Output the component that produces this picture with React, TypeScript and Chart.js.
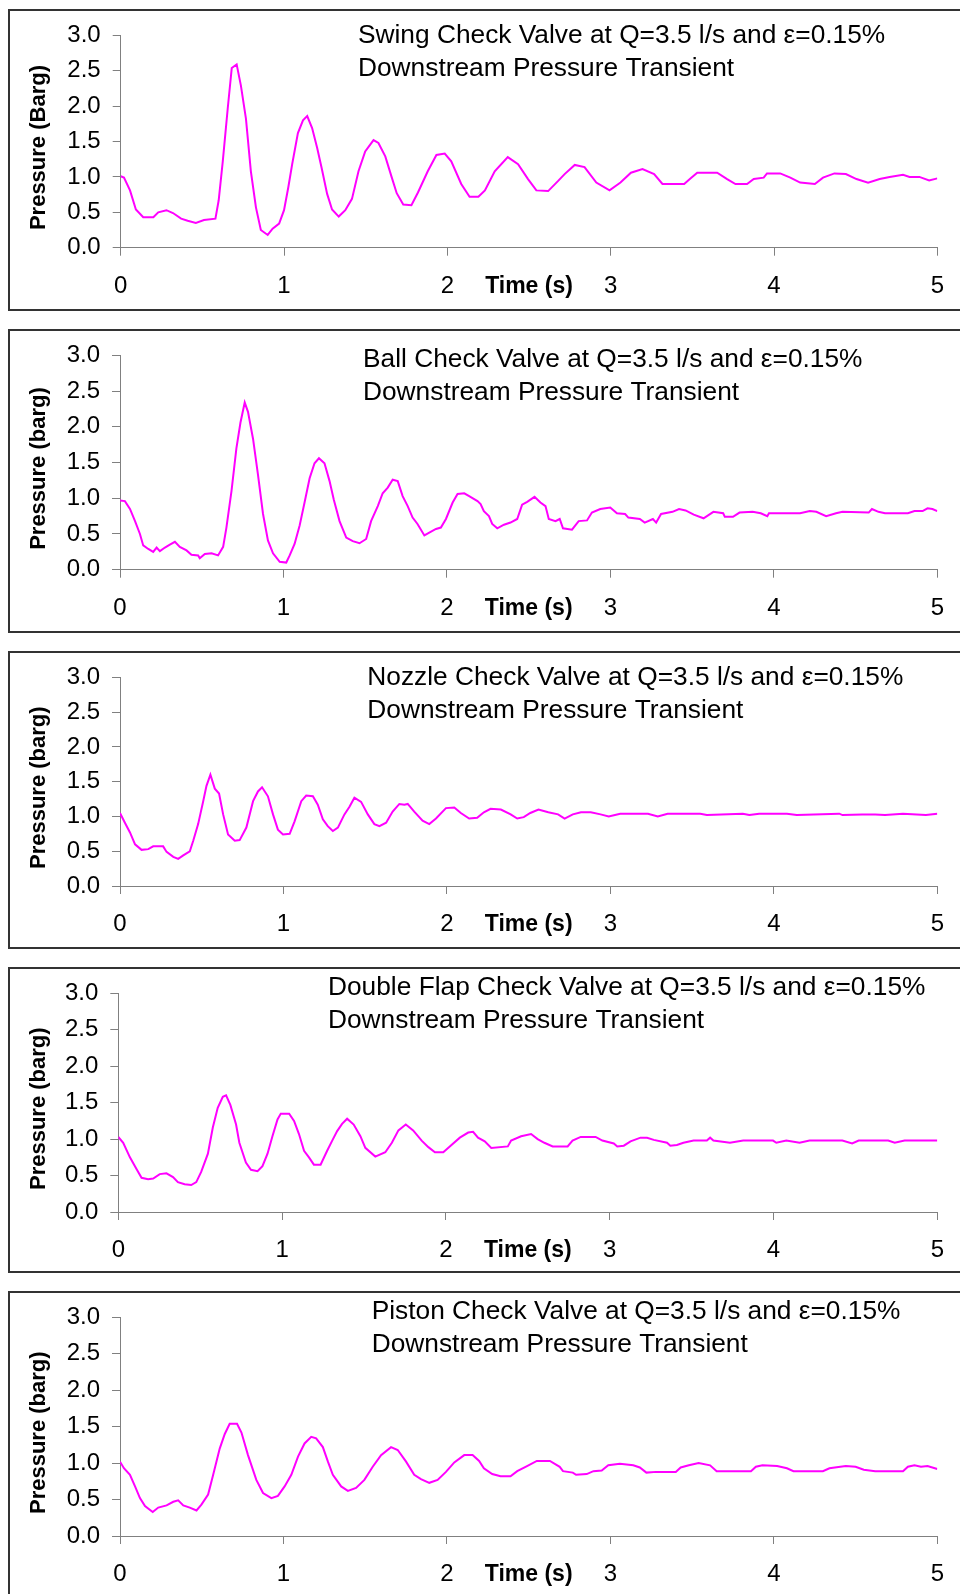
import React, { useEffect, useRef } from "react";
import { Chart, registerables } from "chart.js";
Chart.register(...registerables);

const FONT = "'Liberation Sans', Arial, Helvetica, sans-serif";

// ---- axes ----
const X_TICKS = [0, 1, 2, 3, 4, 5];
const X_TICK_LABELS = ["0", "1", "2", "3", "4", "5"];
const Y_TICKS = [0, 0.5, 1, 1.5, 2, 2.5, 3];
const Y_TICK_LABELS = ["0.0", "0.5", "1.0", "1.5", "2.0", "2.5", "3.0"];
const X_TITLE = "Time (s)";
const SUBTITLE = "Downstream Pressure Transient";

// ---- Swing check valve ----
const SWING_T = [
  0, 0.02, 0.057, 0.093, 0.138, 0.2, 0.23, 0.28, 0.32, 0.37,
  0.41, 0.46, 0.51, 0.58, 0.6, 0.625, 0.655, 0.68, 0.71, 0.736,
  0.767, 0.797, 0.828, 0.858, 0.9, 0.93, 0.97, 1.0, 1.026, 1.05,
  1.085, 1.116, 1.142, 1.172, 1.203, 1.23, 1.264, 1.294, 1.335, 1.375,
  1.416, 1.456, 1.497, 1.548, 1.578, 1.62, 1.66, 1.69, 1.73, 1.78,
  1.82, 1.88, 1.933, 1.984, 2.024, 2.085, 2.136, 2.19, 2.23, 2.29,
  2.37, 2.433, 2.494, 2.545, 2.617, 2.677, 2.718, 2.78, 2.84, 2.912,
  2.993, 3.06, 3.124, 3.195, 3.266, 3.317, 3.45, 3.49, 3.53, 3.652,
  3.713, 3.764, 3.835, 3.876, 3.937, 3.957, 4.038, 4.1, 4.16, 4.25,
  4.3, 4.37, 4.44, 4.505, 4.576, 4.647, 4.708, 4.79, 4.83, 4.89,
  4.95, 5.0,
];
const SWING_P = [
  1.01, 0.99, 0.81, 0.54, 0.43, 0.43, 0.5, 0.53, 0.49, 0.41,
  0.38, 0.35, 0.39, 0.41, 0.67, 1.22, 1.96, 2.54, 2.59, 2.29,
  1.82, 1.08, 0.57, 0.25, 0.18, 0.27, 0.34, 0.53, 0.85, 1.18,
  1.62, 1.8, 1.86, 1.69, 1.41, 1.13, 0.76, 0.54, 0.44, 0.53,
  0.69, 1.08, 1.36, 1.52, 1.48, 1.29, 0.99, 0.77, 0.61, 0.6,
  0.78, 1.08, 1.31, 1.33, 1.22, 0.9, 0.72, 0.72, 0.81, 1.08,
  1.28, 1.18, 0.97, 0.81, 0.8, 0.94, 1.04, 1.17, 1.14, 0.92,
  0.81, 0.92, 1.06, 1.11, 1.04, 0.9, 0.9, 0.98, 1.06, 1.06,
  0.97, 0.9, 0.9, 0.97, 0.99, 1.05, 1.05, 0.99, 0.92, 0.9,
  0.99, 1.05, 1.04, 0.97, 0.92, 0.97, 1.0, 1.03, 1.0, 1.0,
  0.95, 0.98,
];

// ---- Ball check valve ----
const BALL_T = [
  0, 0.03, 0.061, 0.092, 0.122, 0.142, 0.173, 0.203, 0.224, 0.244,
  0.275, 0.305, 0.336, 0.366, 0.407, 0.437, 0.478, 0.488, 0.519, 0.56,
  0.6, 0.631, 0.651, 0.682, 0.712, 0.737, 0.763, 0.783, 0.814, 0.844,
  0.875, 0.905, 0.936, 0.977, 1.017, 1.038, 1.068, 1.099, 1.129, 1.16,
  1.19, 1.217, 1.251, 1.282, 1.308, 1.343, 1.384, 1.424, 1.465, 1.506,
  1.536, 1.577, 1.607, 1.638, 1.668, 1.699, 1.729, 1.76, 1.79, 1.82,
  1.862, 1.892, 1.933, 1.963, 1.994, 2.035, 2.065, 2.106, 2.136, 2.187,
  2.206, 2.226, 2.257, 2.277, 2.308, 2.349, 2.389, 2.43, 2.46, 2.491,
  2.536, 2.572, 2.603, 2.623, 2.664, 2.69, 2.71, 2.765, 2.806, 2.857,
  2.887, 2.938, 2.999, 3.04, 3.09, 3.11, 3.18, 3.21, 3.26, 3.28,
  3.31, 3.38, 3.42, 3.46, 3.51, 3.57, 3.63, 3.69, 3.7, 3.75,
  3.79, 3.87, 3.92, 3.96, 3.97, 4.16, 4.22, 4.26, 4.32, 4.38,
  4.42, 4.58, 4.6, 4.64, 4.68, 4.82, 4.86, 4.91, 4.94, 4.97,
  5.0,
];
const BALL_P = [
  0.97, 0.96, 0.85, 0.68, 0.5, 0.34, 0.29, 0.25, 0.31, 0.26,
  0.31, 0.35, 0.39, 0.32, 0.27, 0.21, 0.2, 0.16, 0.22, 0.23,
  0.2, 0.32, 0.59, 1.1, 1.7, 2.06, 2.34, 2.21, 1.83, 1.33,
  0.78, 0.41, 0.23, 0.11, 0.1, 0.2, 0.36, 0.62, 0.94, 1.28,
  1.49, 1.56, 1.49, 1.24, 0.98, 0.68, 0.45, 0.4, 0.37, 0.43,
  0.68, 0.89, 1.07, 1.15, 1.26, 1.24, 1.03, 0.89, 0.73, 0.64,
  0.48, 0.52, 0.57, 0.59, 0.71, 0.94, 1.06, 1.07, 1.03, 0.96,
  0.92, 0.82, 0.75, 0.64, 0.58, 0.63, 0.66, 0.71, 0.91, 0.95,
  1.02, 0.94, 0.89, 0.71, 0.68, 0.71, 0.58, 0.56, 0.68, 0.69,
  0.8, 0.85, 0.87, 0.79, 0.78, 0.73, 0.71, 0.66, 0.71, 0.66,
  0.78, 0.81, 0.85, 0.83, 0.77, 0.72, 0.81, 0.79, 0.74, 0.74,
  0.8, 0.81, 0.79, 0.75, 0.79, 0.79, 0.82, 0.81, 0.75, 0.79,
  0.81, 0.8, 0.85, 0.81, 0.79, 0.79, 0.82, 0.82, 0.86, 0.85,
  0.82,
];

// ---- Nozzle check valve ----
const NOZZLE_T = [
  0, 0.03, 0.061, 0.092, 0.132, 0.173, 0.203, 0.264, 0.285, 0.326,
  0.356, 0.387, 0.427, 0.448, 0.478, 0.509, 0.529, 0.553, 0.58, 0.606,
  0.631, 0.661, 0.702, 0.732, 0.773, 0.814, 0.844, 0.869, 0.905, 0.936,
  0.966, 0.997, 1.038, 1.068, 1.109, 1.139, 1.18, 1.21, 1.241, 1.271,
  1.302, 1.333, 1.373, 1.404, 1.434, 1.475, 1.516, 1.556, 1.587, 1.628,
  1.668, 1.709, 1.74, 1.76, 1.8, 1.851, 1.892, 1.933, 1.994, 2.045,
  2.085, 2.136, 2.185, 2.226, 2.267, 2.33, 2.39, 2.43, 2.47, 2.51,
  2.56, 2.62, 2.68, 2.72, 2.77, 2.82, 2.88, 2.94, 2.99, 3.06,
  3.23, 3.29, 3.35, 3.55, 3.59, 3.81, 3.85, 3.91, 4.08, 4.14,
  4.4, 4.42, 4.54, 4.62, 4.68, 4.79, 4.93, 5.0,
];
const NOZZLE_P = [
  1.05, 0.91, 0.77, 0.6, 0.52, 0.53, 0.57, 0.57, 0.49, 0.42,
  0.39, 0.44, 0.5, 0.65, 0.89, 1.22, 1.44, 1.6, 1.4, 1.33,
  1.03, 0.74, 0.65, 0.66, 0.84, 1.22, 1.36, 1.42, 1.29, 1.03,
  0.81, 0.74, 0.75, 0.93, 1.22, 1.3, 1.29, 1.17, 0.96, 0.86,
  0.79, 0.84, 1.03, 1.14, 1.27, 1.21, 1.03, 0.89, 0.86, 0.91,
  1.07, 1.18, 1.17, 1.18, 1.07, 0.94, 0.89, 0.97, 1.12, 1.13,
  1.05, 0.97, 0.98, 1.06, 1.11, 1.1, 1.03, 0.97, 0.99, 1.05,
  1.1, 1.06, 1.03, 0.97, 1.03, 1.06, 1.06, 1.03, 1.0, 1.04,
  1.04, 1.0, 1.04, 1.04, 1.02, 1.04, 1.02, 1.04, 1.04, 1.02,
  1.04, 1.02, 1.03, 1.03, 1.02, 1.04, 1.02, 1.04,
];

// ---- Double flap check valve ----
const FLAP_T = [
  0, 0.03, 0.071, 0.111, 0.142, 0.182, 0.213, 0.253, 0.294, 0.334,
  0.364, 0.405, 0.445, 0.476, 0.506, 0.547, 0.577, 0.607, 0.638, 0.658,
  0.684, 0.719, 0.739, 0.779, 0.81, 0.85, 0.88, 0.911, 0.941, 0.972,
  0.992, 1.043, 1.073, 1.103, 1.134, 1.164, 1.194, 1.235, 1.275, 1.306,
  1.336, 1.366, 1.397, 1.437, 1.478, 1.508, 1.569, 1.63, 1.67, 1.71,
  1.755, 1.8, 1.852, 1.893, 1.933, 1.984, 2.034, 2.085, 2.136, 2.166,
  2.196, 2.237, 2.277, 2.378, 2.398, 2.459, 2.52, 2.56, 2.601, 2.652,
  2.743, 2.773, 2.823, 2.914, 2.955, 3.025, 3.046, 3.086, 3.127, 3.188,
  3.228, 3.269, 3.35, 3.37, 3.41, 3.45, 3.512, 3.593, 3.613, 3.633,
  3.734, 3.815, 3.997, 4.017, 4.078, 4.159, 4.22, 4.42, 4.48, 4.52,
  4.7, 4.74, 4.8, 5.0,
];
const FLAP_P = [
  1.03, 0.95, 0.75, 0.59, 0.47, 0.45, 0.46, 0.52, 0.53, 0.48,
  0.41, 0.38, 0.37, 0.41, 0.55, 0.8, 1.16, 1.43, 1.58, 1.6,
  1.47, 1.2, 0.95, 0.68, 0.58, 0.56, 0.63, 0.8, 1.04, 1.27,
  1.35, 1.35, 1.25, 1.07, 0.84, 0.75, 0.65, 0.65, 0.84, 0.98,
  1.11, 1.21, 1.28, 1.2, 1.04, 0.88, 0.76, 0.82, 0.95, 1.12,
  1.2, 1.12, 0.98, 0.89, 0.82, 0.82, 0.92, 1.02, 1.09, 1.1,
  1.02, 0.97, 0.88, 0.9, 0.98, 1.04, 1.07, 1.0, 0.95, 0.9,
  0.9, 0.98, 1.03, 1.03, 0.98, 0.94, 0.9, 0.91, 0.97, 1.02,
  1.02, 0.99, 0.95, 0.91, 0.92, 0.95, 0.98, 0.98, 1.02, 0.98,
  0.95, 0.98, 0.98, 0.95, 0.98, 0.95, 0.98, 0.98, 0.94, 0.98,
  0.98, 0.95, 0.98, 0.98,
];

// ---- Piston check valve ----
const PISTON_T = [
  0, 0.024, 0.061, 0.092, 0.122, 0.153, 0.2, 0.234, 0.285, 0.326,
  0.356, 0.387, 0.427, 0.468, 0.498, 0.539, 0.57, 0.61, 0.641, 0.671,
  0.716, 0.743, 0.783, 0.834, 0.875, 0.926, 0.966, 1.007, 1.048, 1.089,
  1.129, 1.17, 1.2, 1.241, 1.272, 1.302, 1.353, 1.394, 1.444, 1.495,
  1.546, 1.597, 1.658, 1.699, 1.75, 1.8, 1.841, 1.892, 1.943, 1.994,
  2.045, 2.106, 2.157, 2.197, 2.226, 2.277, 2.328, 2.389, 2.43, 2.49,
  2.55, 2.63, 2.69, 2.71, 2.77, 2.79, 2.855, 2.896, 2.947, 2.987,
  3.058, 3.14, 3.18, 3.22, 3.28, 3.4, 3.43, 3.48, 3.54, 3.61,
  3.65, 3.86, 3.89, 3.93, 4.02, 4.08, 4.12, 4.3, 4.34, 4.44,
  4.5, 4.55, 4.62, 4.79, 4.82, 4.86, 4.9, 4.94, 5.0,
];
const PISTON_P = [
  1.02, 0.93, 0.84, 0.68, 0.52, 0.41, 0.33, 0.39, 0.42, 0.47,
  0.49, 0.42, 0.39, 0.35, 0.43, 0.57, 0.84, 1.2, 1.4, 1.54,
  1.54, 1.42, 1.11, 0.77, 0.59, 0.52, 0.55, 0.68, 0.84, 1.09,
  1.27, 1.36, 1.34, 1.22, 1.02, 0.84, 0.68, 0.62, 0.66, 0.77,
  0.95, 1.11, 1.22, 1.18, 1.02, 0.84, 0.78, 0.73, 0.77, 0.88,
  1.01, 1.11, 1.11, 1.03, 0.93, 0.85, 0.82, 0.82, 0.89, 0.96,
  1.03, 1.03, 0.95, 0.89, 0.87, 0.84, 0.85, 0.89, 0.9, 0.97,
  0.99, 0.97, 0.94, 0.87, 0.88, 0.88, 0.94, 0.97, 1.0, 0.97,
  0.89, 0.89, 0.95, 0.97, 0.96, 0.93, 0.89, 0.89, 0.93, 0.96,
  0.95, 0.91, 0.89, 0.89, 0.95, 0.97, 0.95, 0.96, 0.92,
];

// ---- layout of the five panels (page pixels) ----
type PanelCfg = {
  title: string;
  yTitle: string;
  t: number[];
  p: number[];
  boxTop: number;
  boxH: number;
  plotL: number;
  plotR: number;
  plotT: number;
  plotB: number;
  titleX: number;
  titleBase: number;
};

const PANELS: PanelCfg[] = [
  { title: "Swing Check Valve at Q=3.5 l/s and ε=0.15%", yTitle: "Pressure (Barg)", t: SWING_T, p: SWING_P,
    boxTop: 9, boxH: 302, plotL: 120.7, plotR: 941.3, plotT: 32, plotB: 247.7, titleX: 359, titleBase: 42.6 },
  { title: "Ball Check Valve at Q=3.5 l/s and ε=0.15%", yTitle: "Pressure (barg)", t: BALL_T, p: BALL_P,
    boxTop: 329, boxH: 304, plotL: 120, plotR: 941.7, plotT: 352, plotB: 569.7, titleX: 364, titleBase: 367 },
  { title: "Nozzle Check Valve at Q=3.5 l/s and ε=0.15%", yTitle: "Pressure (barg)", t: NOZZLE_T, p: NOZZLE_P,
    boxTop: 651, boxH: 298, plotL: 120, plotR: 941.7, plotT: 673.7, plotB: 886, titleX: 368.3, titleBase: 685.3 },
  { title: "Double Flap Check Valve at Q=3.5 l/s and ε=0.15%", yTitle: "Pressure (barg)", t: FLAP_T, p: FLAP_P,
    boxTop: 967, boxH: 306, plotL: 118.3, plotR: 941.7, plotT: 990, plotB: 1212, titleX: 329, titleBase: 995.3 },
  { title: "Piston Check Valve at Q=3.5 l/s and ε=0.15%", yTitle: "Pressure (barg)", t: PISTON_T, p: PISTON_P,
    boxTop: 1291, boxH: 310, plotL: 120, plotR: 941.7, plotT: 1314, plotB: 1536, titleX: 372.7, titleBase: 1319.3 },
];

const CANVAS_X = 8;
const CANVAS_W = 952;
const AXIS_COLOR = "#808080";
const TICK_SIZE = 24;

function Panel({ cfg }: { cfg: PanelCfg }) {
  const ref = useRef<HTMLCanvasElement | null>(null);
  useEffect(() => {
    const canvas = ref.current;
    if (!canvas) return;
    const H = cfg.boxH;
    const relL = cfg.plotL - CANVAS_X;
    const relR = cfg.plotR - CANVAS_X;
    const relT = cfg.plotT - cfg.boxTop;
    const relB = cfg.plotB - cfg.boxTop;
    const labelRow = relB + 38.5; // centre of the x tick label row
    const xTitleSize = 23;
    const xTitlePadBottom = H - labelRow - (xTitleSize * 1.2) / 2;

    const overlay = {
      id: "overlay",
      afterDraw(chart: any) {
        const ctx = chart.ctx as CanvasRenderingContext2D;
        const a = chart.chartArea;
        ctx.save();
        ctx.fillStyle = "#000";
        ctx.font = `26.3px ${FONT}`;
        ctx.textAlign = "left";
        ctx.textBaseline = "alphabetic";
        const tx = cfg.titleX - CANVAS_X - 1;
        const ty = cfg.titleBase - cfg.boxTop;
        ctx.fillText(cfg.title, tx, ty);
        ctx.fillText(SUBTITLE, tx, ty + 33);
        ctx.translate(45 - CANVAS_X, (a.top + a.bottom) / 2 + 6);
        ctx.rotate(-Math.PI / 2);
        ctx.font = `bold 22px ${FONT}`;
        ctx.textAlign = "center";
        ctx.fillText(cfg.yTitle, 0, 0);
        ctx.restore();
      },
    };

    const chart = new Chart(canvas, {
      type: "line",
      data: {
        datasets: [
          {
            data: cfg.t.map((x, i) => ({ x, y: cfg.p[i] })),
            borderColor: "#FF00FF",
            borderWidth: 2,
            pointRadius: 0,
            tension: 0,
            fill: false,
          },
        ],
      },
      options: {
        animation: false,
        responsive: false,
        maintainAspectRatio: false,
        devicePixelRatio: 1,
        events: [],
        layout: { padding: { left: 0, top: relT, right: CANVAS_W - relR, bottom: 0 } },
        plugins: { legend: { display: false }, tooltip: { enabled: false }, title: { display: false } },
        scales: {
          x: {
            type: "linear",
            min: 0,
            max: 5,
            afterBuildTicks: (s: any) => {
              s.ticks = X_TICKS.map((v) => ({ value: v }));
            },
            afterFit: (s: any) => {
              s.height = H - relB;
            },
            ticks: {
              callback: (_v: any, i: number) => X_TICK_LABELS[i],
              font: { family: FONT, size: TICK_SIZE },
              color: "#000",
              padding: 16,
              maxRotation: 0,
              autoSkip: false,
            },
            grid: { display: true, drawOnChartArea: false, drawTicks: true, tickLength: 8, color: AXIS_COLOR, lineWidth: 1 },
            border: { display: true, color: AXIS_COLOR, width: 1 },
            title: {
              display: true,
              text: X_TITLE,
              font: { family: FONT, size: xTitleSize, weight: "bold" },
              color: "#000",
              padding: { top: 0, bottom: xTitlePadBottom },
            },
          },
          y: {
            type: "linear",
            min: 0,
            max: 3,
            afterBuildTicks: (s: any) => {
              s.ticks = Y_TICKS.map((v) => ({ value: v }));
            },
            afterFit: (s: any) => {
              s.width = relL;
            },
            ticks: {
              callback: (_v: any, i: number) => Y_TICK_LABELS[i],
              font: { family: FONT, size: TICK_SIZE },
              color: "#000",
              padding: 12,
              autoSkip: false,
            },
            grid: { display: true, drawOnChartArea: false, drawTicks: true, tickLength: 8, color: AXIS_COLOR, lineWidth: 1 },
            border: { display: true, color: AXIS_COLOR, width: 1 },
            title: { display: false },
          },
        },
      } as any,
      plugins: [overlay],
    });
    return () => chart.destroy();
  }, [cfg]);

  return (
    <>
      <div
        style={{
          position: "absolute",
          left: 8,
          top: cfg.boxTop,
          width: 960,
          height: cfg.boxH,
          border: "2px solid #333",
          boxSizing: "border-box",
        }}
      />
      <canvas
        ref={ref}
        width={CANVAS_W}
        height={cfg.boxH}
        style={{ position: "absolute", left: CANVAS_X, top: cfg.boxTop, width: CANVAS_W, height: cfg.boxH }}
      />
    </>
  );
}

export default function App() {
  return (
    <div
      style={{
        position: "fixed",
        left: 0,
        top: 0,
        width: 960,
        height: 1594,
        overflow: "hidden",
        background: "#fff",
      }}
    >
      {PANELS.map((cfg, i) => (
        <Panel key={i} cfg={cfg} />
      ))}
    </div>
  );
}
